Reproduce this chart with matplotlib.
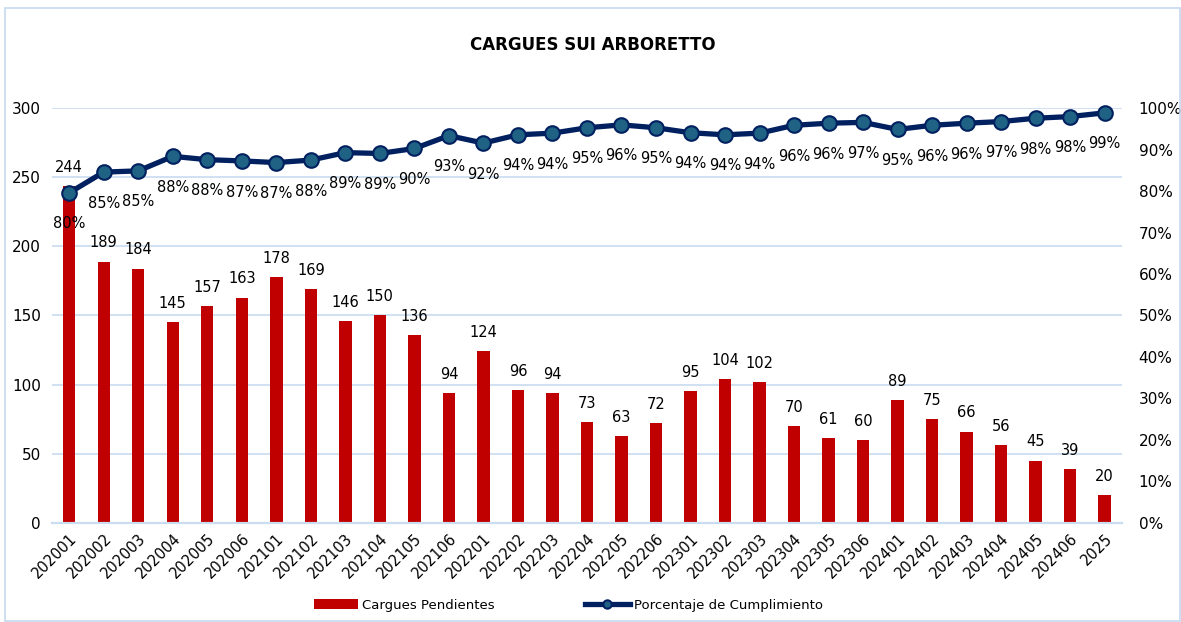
import numpy as np
import matplotlib
matplotlib.use('Agg')
import matplotlib.pyplot as plt
from matplotlib.patches import Rectangle

# data
periodos = ['202001', '202002', '202003', '202004', '202005', '202006',
            '202101', '202102', '202103', '202104', '202105', '202106',
            '202201', '202202', '202203', '202204', '202205', '202206',
            '202301', '202302', '202303', '202304', '202305', '202306',
            '202401', '202402', '202403', '202404', '202405', '202406', '2025']
pendientes = [244, 189, 184, 145, 157, 163, 178, 169, 146, 150, 136, 94,
              124, 96, 94, 73, 63, 72, 95, 104, 102, 70, 61, 60,
              89, 75, 66, 56, 45, 39, 20]
cumplimiento = [79.6, 84.6, 84.9, 88.4, 87.6, 87.3, 86.9, 87.5, 89.3, 89.1, 90.3, 93.4,
                91.6, 93.6, 94.0, 95.3, 96.0, 95.3, 94.1, 93.6, 94.0, 95.9, 96.4, 96.6,
                94.9, 95.9, 96.4, 96.8, 97.6, 98.0, 98.9]
etiquetas_pct = [80, 85, 85, 88, 88, 87, 87, 88, 89, 89, 90, 93,
                 92, 94, 94, 95, 96, 95, 94, 94, 94, 96, 96, 97,
                 95, 96, 96, 97, 98, 98, 99]

rojo = '#C00000'
navy = '#002060'
teal = '#1F6284'
grid_c = '#C9DCF0'
fs = 10.5

fig = plt.figure(figsize=(11.81, 6.22), dpi=100)
ax = fig.add_axes([0.044, 0.1597, 0.906, 0.6662])
ax2 = ax.twinx()

x = np.arange(len(periodos))
ax.bar(x, pendientes, width=0.36, color=rojo, zorder=2, label='Cargues Pendientes')
for xi, v in zip(x, pendientes):
    ax.annotate(str(v), (xi, v), xytext=(0, 8), textcoords='offset points',
                ha='center', va='bottom', fontsize=fs, color='black')

ax2.plot(x, cumplimiento, color=navy, linewidth=3.8, marker='o', markersize=10.5,
         markerfacecolor=teal, markeredgecolor=navy, markeredgewidth=1.5,
         zorder=3, label='Porcentaje de Cumplimiento', clip_on=False)
for xi, v, t in zip(x, cumplimiento, etiquetas_pct):
    ax2.annotate('%d%%' % t, (xi, v), xytext=(0, -17), textcoords='offset points',
                 ha='center', va='top', fontsize=fs, color='black')

ax.set_ylim(0, 300)
ax.set_yticks(np.arange(0, 301, 50))
ax2.set_ylim(0, 100)
ax2.set_yticks(np.arange(0, 101, 10))
ax2.set_yticklabels(['%d%%' % p for p in range(0, 101, 10)])
ax.set_xlim(-0.5, len(periodos) - 0.5)
ax.set_xticks(x)
ax.set_xticklabels(periodos, rotation=45, ha='right', rotation_mode='anchor')

ax.grid(axis='y', color=grid_c, linewidth=1.2, zorder=0)
ax.set_axisbelow(True)
for a in (ax, ax2):
    for s in ('top', 'left', 'right'):
        a.spines[s].set_visible(False)
    a.spines['bottom'].set_color(grid_c)
    a.spines['bottom'].set_linewidth(1.5)
ax.tick_params(axis='y', length=0, pad=8, labelsize=fs + 0.5)
ax2.tick_params(axis='y', length=0, pad=12, labelsize=fs + 0.5)
ax.tick_params(axis='x', length=0, pad=6, labelsize=fs)

fig.text(0.502, 0.928, 'CARGUES SUI ARBORETTO', ha='center', va='center',
         fontsize=12, fontweight='bold')

h1, l1 = ax.get_legend_handles_labels()
h2, l2 = ax2.get_legend_handles_labels()
leg = fig.legend(h1 + h2, l1 + l2, loc='center', bbox_to_anchor=(0.481, 0.027),
                 ncol=2, frameon=False, fontsize=9.5, handlelength=3.4,
                 columnspacing=6.8, handletextpad=0.3)
for hl in leg.legend_handles:
    if hasattr(hl, 'set_markersize'):
        hl.set_markersize(6)

fig.patches.append(Rectangle((0.004, 0.002), 0.995, 0.985, transform=fig.transFigure,
                             fill=False, edgecolor='#C5D9F0', linewidth=1.2))

fig.savefig('out.png', dpi=100)
